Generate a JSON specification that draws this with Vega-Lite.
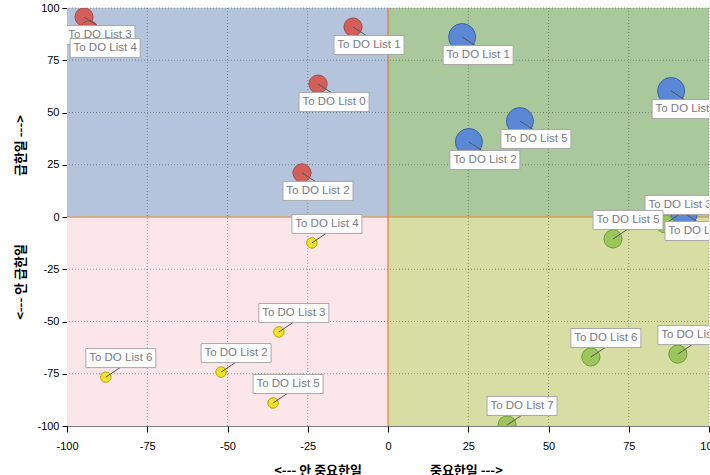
{
  "$schema": "https://vega.github.io/schema/vega-lite/v6.json",
  "width": 642,
  "height": 418,
  "autosize": {"type": "none"},
  "padding": {"left": 67, "top": 8, "right": 1, "bottom": 49},
  "background": "white",
  "config": {
    "view": {"stroke": null},
    "axisX": {
      "grid": false,
      "domainColor": "#000000", "domainDash": [1, 1], "domainWidth": 1,
      "tickColor": "#000000", "tickSize": 6,
      "labelFont": "Liberation Sans", "labelFontSize": 11, "labelColor": "#000000",
      "labelPadding": 8, "labelFlush": false, "labelOverlap": false,
      "labelExpr": "'' + datum.value",
      "titleFont": "Noto Sans CJK KR", "titleFontSize": 13, "titleFontWeight": "bold",
      "titleColor": "#000000", "titleX": 321, "titleY": 44,
      "titleAlign": "center", "titleBaseline": "middle",
      "zindex": 1
    },
    "axisY": {
      "grid": false,
      "domainColor": "#000000", "domainWidth": 1,
      "tickColor": "#000000", "tickSize": 5,
      "labelFont": "Liberation Sans", "labelFontSize": 11, "labelColor": "#000000",
      "labelPadding": 3, "labelFlush": false, "labelOverlap": false,
      "labelExpr": "'' + datum.value",
      "titleFont": "Noto Sans CJK KR", "titleFontSize": 13, "titleFontWeight": "bold",
      "titleColor": "#000000", "titleX": -47, "titleY": 209, "titleAngle": -90,
      "titleAlign": "center", "titleBaseline": "middle",
      "zindex": 1
    }
  },
  "datasets": {
    "quads": [
      {"x1": -100, "x2": 0, "y1": 0, "y2": 100, "q": "TL"},
      {"x1": 0, "x2": 100, "y1": 0, "y2": 100, "q": "TR"},
      {"x1": -100, "x2": 0, "y1": -100, "y2": 0, "q": "BL"},
      {"x1": 0, "x2": 100, "y1": -100, "y2": 0, "q": "BR"}
    ],
    "grid": [{"v": -75}, {"v": -50}, {"v": -25}, {"v": 25}, {"v": 50}, {"v": 75}, {"v": 100}],
    "zero": [{"v": 0}],
    "pts": [
      {"name": "To DO List 3", "x": -94.7, "y": 95.7, "g": "red"},
      {"name": "To DO List 4", "x": -93.1, "y": 89.5, "g": "red"},
      {"name": "To DO List 1", "x": -10.9, "y": 90.9, "g": "red"},
      {"name": "To DO List 0", "x": -21.8, "y": 63.6, "g": "red"},
      {"name": "To DO List 2", "x": -26.8, "y": 21.1, "g": "red"},
      {"name": "To DO List 1", "x": 23.1, "y": 86.1, "g": "blue"},
      {"name": "To DO List 4", "x": 88.2, "y": 60.3, "g": "blue"},
      {"name": "To DO List 5", "x": 41.1, "y": 45.9, "g": "blue"},
      {"name": "To DO List 2", "x": 25.2, "y": 35.9, "g": "blue"},
      {"name": "To DO List 3", "x": 92.2, "y": 1.9, "g": "blue"},
      {"name": "To DO List 3", "x": 86.3, "y": -3.3, "g": "green"},
      {"name": "To DO List 5", "x": 70.1, "y": -10.5, "g": "green"},
      {"name": "To DO List 6", "x": 63.2, "y": -67.0, "g": "green"},
      {"name": "To DO List 4", "x": 90.3, "y": -65.6, "g": "green"},
      {"name": "To DO List 7", "x": 37.1, "y": -99.5, "g": "green"},
      {"name": "To DO List 4", "x": -23.7, "y": -12.4, "g": "yellow"},
      {"name": "To DO List 3", "x": -34.0, "y": -55.0, "g": "yellow"},
      {"name": "To DO List 2", "x": -52.0, "y": -74.2, "g": "yellow"},
      {"name": "To DO List 6", "x": -87.9, "y": -76.6, "g": "yellow"},
      {"name": "To DO List 5", "x": -35.8, "y": -89.0, "g": "yellow"}
    ]
  },
  "layer": [
    {
      "data": {"name": "quads"},
      "mark": {"type": "rect", "clip": true},
      "encoding": {
        "x": {
          "field": "x1", "type": "quantitative",
          "scale": {"domain": [-100, 100], "nice": false, "zero": false},
          "axis": {"values": [-100, -75, -50, -25, 0, 25, 50, 75, 100]},
          "title": "<--- 안 중요한일\u2003\u2003\u2003\u2003\u2003 중요한일 --->"
        },
        "x2": {"field": "x2"},
        "y": {
          "field": "y1", "type": "quantitative",
          "scale": {"domain": [-100, 100], "nice": false, "zero": false},
          "axis": {"values": [-100, -75, -50, -25, 0, 25, 50, 75, 100]},
          "title": "<--- 안 급한일\u2003\u2003\u2003\u2003\u2003 급한일 --->"
        },
        "y2": {"field": "y2"},
        "color": {
          "field": "q", "type": "nominal",
          "scale": {"type": "ordinal", "domain": ["TL", "TR", "BL", "BR"], "range": ["#b4c4dc", "#a9c89b", "#fde6ea", "#d6dea4"]},
          "legend": null
        }
      }
    },
    {
      "data": {"name": "grid"},
      "mark": {"type": "rule", "color": "#444444", "opacity": 0.5, "strokeDash": [1, 2], "strokeWidth": 1},
      "encoding": {"x": {"field": "v", "type": "quantitative", "title": "<--- 안 중요한일\u2003\u2003\u2003\u2003\u2003 중요한일 --->"}}
    },
    {
      "data": {"name": "grid"},
      "mark": {"type": "rule", "color": "#444444", "opacity": 0.5, "strokeDash": [1, 2], "strokeWidth": 1},
      "encoding": {"y": {"field": "v", "type": "quantitative", "title": "<--- 안 급한일\u2003\u2003\u2003\u2003\u2003 급한일 --->"}}
    },
    {
      "data": {"name": "zero"},
      "mark": {"type": "rule", "color": "#f0622e", "strokeWidth": 1},
      "encoding": {"x": {"field": "v", "type": "quantitative", "title": "<--- 안 중요한일\u2003\u2003\u2003\u2003\u2003 중요한일 --->"}}
    },
    {
      "data": {"name": "zero"},
      "mark": {"type": "rule", "color": "#f08228", "strokeWidth": 1},
      "encoding": {"y": {"field": "v", "type": "quantitative", "title": "<--- 안 급한일\u2003\u2003\u2003\u2003\u2003 급한일 --->"}}
    },
    {
      "data": {"name": "pts"},
      "mark": {"type": "circle", "opacity": 1, "strokeWidth": 1, "clip": true},
      "encoding": {
        "x": {"field": "x", "type": "quantitative", "title": "<--- 안 중요한일\u2003\u2003\u2003\u2003\u2003 중요한일 --->"},
        "y": {"field": "y", "type": "quantitative", "title": "<--- 안 급한일\u2003\u2003\u2003\u2003\u2003 급한일 --->"},
        "fill": {
          "field": "g", "type": "nominal",
          "scale": {"type": "ordinal", "domain": ["red", "blue", "green", "yellow"], "range": ["#d25f5a", "#5b88d4", "#9cc65c", "#f2e22a"]},
          "legend": null
        },
        "stroke": {
          "field": "g", "type": "nominal",
          "scale": {"type": "ordinal", "domain": ["red", "blue", "green", "yellow"], "range": ["#a44a46", "#3e64a8", "#6e9a3c", "#b5a600"]},
          "legend": null
        },
        "size": {
          "field": "g", "type": "nominal",
          "scale": {"type": "ordinal", "domain": ["red", "blue", "green", "yellow"], "range": [330, 730, 330, 110]},
          "legend": null
        }
      }
    },
    {
      "data": {"name": "pts"},
      "transform": [{"filter": "datum.y > 0"}],
      "mark": {"type": "point", "shape": "M0,0L1.4,0.9", "size": 400, "filled": false, "stroke": "#555555", "strokeWidth": 1, "opacity": 1, "clip": true},
      "encoding": {
        "x": {"field": "x", "type": "quantitative", "title": "<--- 안 중요한일\u2003\u2003\u2003\u2003\u2003 중요한일 --->"},
        "y": {"field": "y", "type": "quantitative", "title": "<--- 안 급한일\u2003\u2003\u2003\u2003\u2003 급한일 --->"}
      }
    },
    {
      "data": {"name": "pts"},
      "transform": [{"filter": "datum.y <= 0"}],
      "mark": {"type": "point", "shape": "M0,0L1.5,-1", "size": 400, "filled": false, "stroke": "#555555", "strokeWidth": 1, "opacity": 1, "clip": true},
      "encoding": {
        "x": {"field": "x", "type": "quantitative", "title": "<--- 안 중요한일\u2003\u2003\u2003\u2003\u2003 중요한일 --->"},
        "y": {"field": "y", "type": "quantitative", "title": "<--- 안 급한일\u2003\u2003\u2003\u2003\u2003 급한일 --->"}
      }
    },
    {
      "data": {"name": "pts"},
      "transform": [{"filter": "datum.y > 0"}],
      "mark": {"type": "point", "shape": "M-1.9,0.85L5.1,0.85L5.1,2.75L-1.9,2.75Z", "size": 400, "filled": true, "fill": "#ffffff", "stroke": "#a8a8a8", "strokeWidth": 1, "opacity": 1, "clip": true},
      "encoding": {
        "x": {"field": "x", "type": "quantitative", "title": "<--- 안 중요한일\u2003\u2003\u2003\u2003\u2003 중요한일 --->"},
        "y": {"field": "y", "type": "quantitative", "title": "<--- 안 급한일\u2003\u2003\u2003\u2003\u2003 급한일 --->"}
      }
    },
    {
      "data": {"name": "pts"},
      "transform": [{"filter": "datum.y <= 0"}],
      "mark": {"type": "point", "shape": "M-2,-2.85L5,-2.85L5,-0.95L-2,-0.95Z", "size": 400, "filled": true, "fill": "#ffffff", "stroke": "#a8a8a8", "strokeWidth": 1, "opacity": 1, "clip": true},
      "encoding": {
        "x": {"field": "x", "type": "quantitative", "title": "<--- 안 중요한일\u2003\u2003\u2003\u2003\u2003 중요한일 --->"},
        "y": {"field": "y", "type": "quantitative", "title": "<--- 안 급한일\u2003\u2003\u2003\u2003\u2003 급한일 --->"}
      }
    },
    {
      "data": {"name": "pts"},
      "transform": [{"filter": "datum.y > 0"}],
      "mark": {"type": "text", "dx": 16, "dy": 18, "align": "center", "baseline": "middle", "font": "Liberation Sans", "fontSize": 11.5, "color": "#7a7a84", "clip": true},
      "encoding": {
        "x": {"field": "x", "type": "quantitative", "title": "<--- 안 중요한일\u2003\u2003\u2003\u2003\u2003 중요한일 --->"},
        "y": {"field": "y", "type": "quantitative", "title": "<--- 안 급한일\u2003\u2003\u2003\u2003\u2003 급한일 --->"},
        "text": {"field": "name"}
      }
    },
    {
      "data": {"name": "pts"},
      "transform": [{"filter": "datum.y <= 0"}],
      "mark": {"type": "text", "dx": 15, "dy": -19, "align": "center", "baseline": "middle", "font": "Liberation Sans", "fontSize": 11.5, "color": "#7a7a84", "clip": true},
      "encoding": {
        "x": {"field": "x", "type": "quantitative", "title": "<--- 안 중요한일\u2003\u2003\u2003\u2003\u2003 중요한일 --->"},
        "y": {"field": "y", "type": "quantitative", "title": "<--- 안 급한일\u2003\u2003\u2003\u2003\u2003 급한일 --->"},
        "text": {"field": "name"}
      }
    }
  ]
}
